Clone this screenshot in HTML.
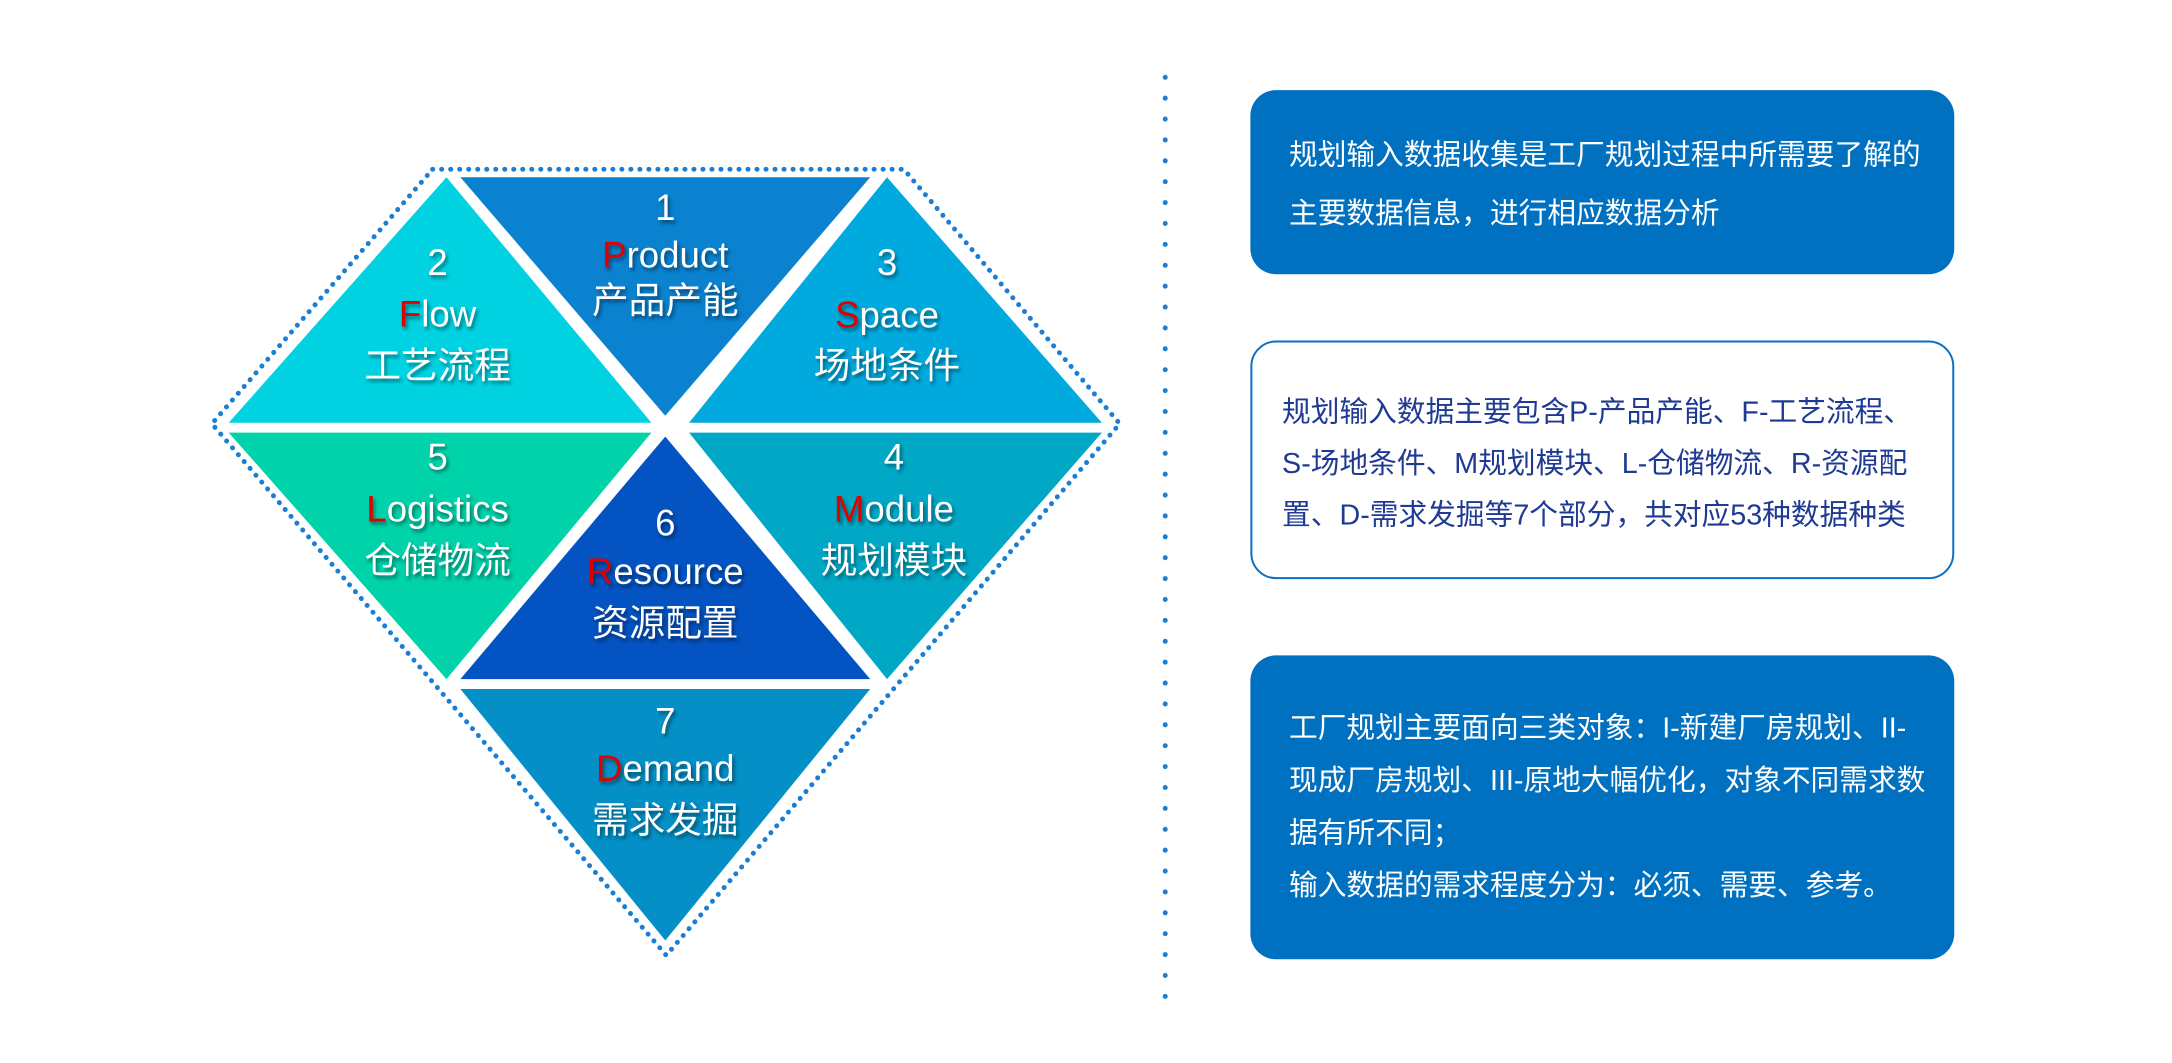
<!DOCTYPE html>
<html><head><meta charset="utf-8"><style>
body{margin:0;width:2172px;height:1063px;background:#fff;position:relative;overflow:hidden;font-family:"Liberation Sans","Noto Sans CJK SC",sans-serif}
#w{position:absolute;left:0;top:0;width:2172px;height:1063px;transform:scale(0.99);transform-origin:0 0}
.t{position:absolute;color:#fff;text-align:center;width:300px;margin-left:-150px;font-size:37px;line-height:34px;text-shadow:2px 3px 4px rgba(0,0,0,.45);white-space:nowrap}
.r{color:#e00000}
.box{position:absolute;left:1263px;width:711px;border-radius:26px;box-sizing:border-box;font-size:29px;white-space:nowrap}
.box div{position:absolute;left:39px}
</style></head><body><div id="w">
<svg width="2172" height="1063" style="position:absolute;left:0;top:0">
<polygon points="437,171 913,171 1131,428 673,965 214,428" fill="none" stroke="#1a7fd4" stroke-width="5" stroke-dasharray="0.1 9" stroke-linecap="round"/>
<polygon points="451,179 231,427 658,427" fill="#00d2e2"/>
<polygon points="465,179 879,179 672,420" fill="#0a82d0"/>
<polygon points="896,179 696,427 1113,427" fill="#00aade"/>
<polygon points="231,437 658,437 451,686" fill="#00d2aa"/>
<polygon points="672,441 465,686 879,686" fill="#0453c2"/>
<polygon points="696,437 1113,437 896,686" fill="#00a8c6"/>
<polygon points="465,696 879,696 672,950" fill="#0490c6"/>
<line x1="1177" y1="78" x2="1177" y2="1012" stroke="#1a7fd4" stroke-width="5" stroke-dasharray="0.1 21" stroke-linecap="round"/>
</svg>
<div class="t" style="left:672px;top:193px">1</div>
<div class="t" style="left:672px;top:241px"><span class="r">P</span>roduct</div>
<div class="t" style="left:672px;top:287px">产品产能</div>
<div class="t" style="left:442px;top:249px">2</div>
<div class="t" style="left:442px;top:301px"><span class="r">F</span>low</div>
<div class="t" style="left:442px;top:353px">工艺流程</div>
<div class="t" style="left:896px;top:249px">3</div>
<div class="t" style="left:896px;top:302px"><span class="r">S</span>pace</div>
<div class="t" style="left:896px;top:353px">场地条件</div>
<div class="t" style="left:442px;top:445px">5</div>
<div class="t" style="left:442px;top:498px"><span class="r">L</span>ogistics</div>
<div class="t" style="left:442px;top:550px">仓储物流</div>
<div class="t" style="left:903px;top:445px">4</div>
<div class="t" style="left:903px;top:498px"><span class="r">M</span>odule</div>
<div class="t" style="left:903px;top:550px">规划模块</div>
<div class="t" style="left:672px;top:512px">6</div>
<div class="t" style="left:672px;top:561px"><span class="r">R</span>esource</div>
<div class="t" style="left:672px;top:613px">资源配置</div>
<div class="t" style="left:672px;top:712px">7</div>
<div class="t" style="left:672px;top:760px"><span class="r">D</span>emand</div>
<div class="t" style="left:672px;top:812px">需求发掘</div>

<div class="box" style="top:91px;height:186px;background:#0070c0;color:#fff">
<div style="top:42px">规划输入数据收集是工厂规划过程中所需要了解的</div>
<div style="top:101px">主要数据信息，进行相应数据分析</div>
</div>
<div class="box" style="top:344px;height:241px;background:#fff;border:2px solid #0a6fc4;color:#1f3a93">
<div style="left:30px;top:47px">规划输入数据主要包含P-产品产能、F-工艺流程、</div>
<div style="left:30px;top:99px">S-场地条件、M规划模块、L-仓储物流、R-资源配</div>
<div style="left:30px;top:151px">置、D-需求发掘等7个部分，共对应53种数据种类</div>
</div>
<div class="box" style="top:662px;height:307px;background:#0070c0;color:#fff">
<div style="top:50px">工厂规划主要面向三类对象：I-新建厂房规划、II-</div>
<div style="top:103px">现成厂房规划、III-原地大幅优化，对象不同需求数</div>
<div style="top:156px">据有所不同；</div>
<div style="top:209px">输入数据的需求程度分为：必须、需要、参考。</div>
</div>
</div></body></html>
